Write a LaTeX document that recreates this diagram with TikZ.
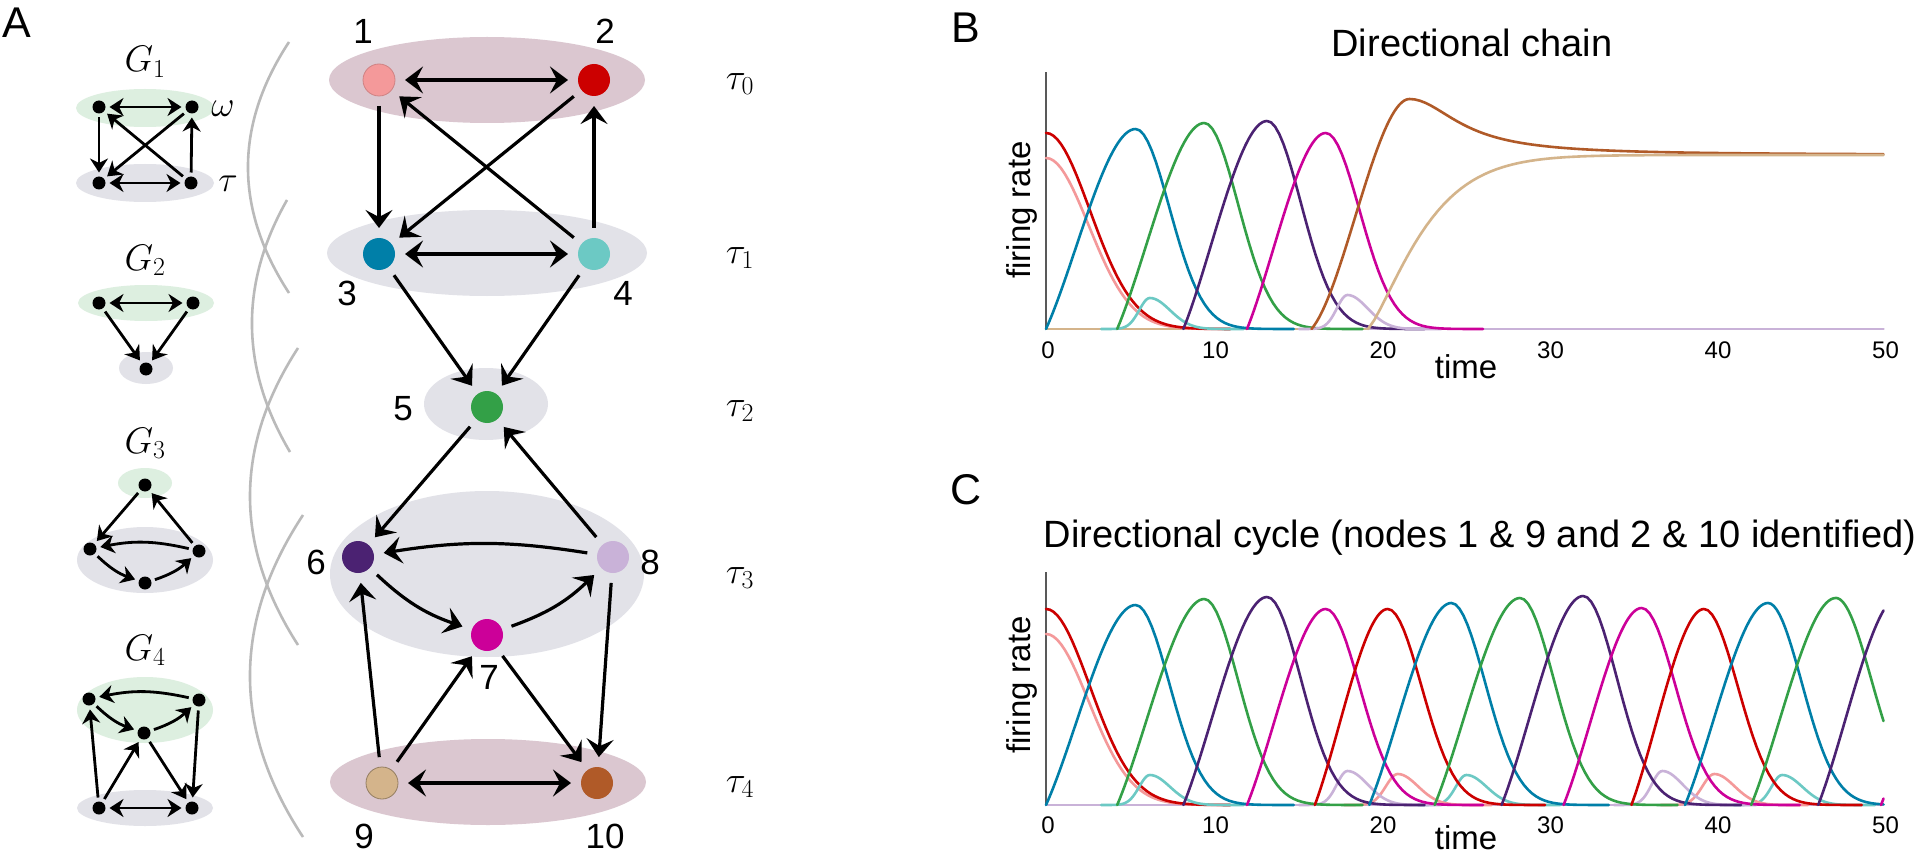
\RequirePackage{fix-cm}
\documentclass[tikz,border=0pt]{standalone}
\usepackage[no-math]{fontspec}
\setmainfont{Liberation Sans}
\usetikzlibrary{arrows.meta}
\definecolor{c1}{HTML}{F4999A}
\definecolor{c2}{HTML}{CC0000}
\definecolor{c3}{HTML}{007FA8}
\definecolor{c4}{HTML}{6CC9C4}
\definecolor{c5}{HTML}{33A047}
\definecolor{c6}{HTML}{4B2272}
\definecolor{c7}{HTML}{CC0099}
\definecolor{c8}{HTML}{C9B2D8}
\definecolor{c9}{HTML}{D4B48B}
\definecolor{c10}{HTML}{B05A28}
\definecolor{mauve}{HTML}{DBC7D0}
\definecolor{lgray}{HTML}{E2E2E8}
\definecolor{lgreen}{HTML}{DDEFE0}
\newcommand{\myfs}[1]{\fontsize{#1}{#1}\selectfont}
\pgfmathdeclarefunction{rise}{1}{\pgfmathparse{(#1)*(1+(#1)-(#1)*(#1))}}
\pgfmathdeclarefunction{fall}{2}{\pgfmathparse{exp(-((#1)/(#2))*((#1)/(#2)))}}
% color, tstart, tpeak, height, sigma, tend
\newcommand{\mypulse}[6]{\draw[curve,#1] plot[domain=#2:#3,samples=36] (\x,{#4*rise((\x-#2)/(#3-#2))}) -- plot[domain=#3:#6,samples=40] (\x,{#4*fall(\x-#3,#5)});}
% color, tpeak, height, sigmaL, sigmaR, tstart, tend
\newcommand{\mybump}[7]{\draw[curve,#1] plot[domain=#6:#2,samples=30] (\x,{#3*fall(\x-#2,#4)}) -- plot[domain=#2:#7,samples=36] (\x,{#3*fall(\x-#2,#5)});}
\tikzset{
 mn/.style={circle,minimum size=32pt,inner sep=0pt,outer sep=10pt},
 sn/.style={circle,fill=black,minimum size=13pt,inner sep=0pt,outer sep=4pt},
 ar/.style={line width=3.2pt,-{Stealth[length=18pt,width=27pt,inset=7pt]}},
 dar/.style={line width=3.2pt,{Stealth[length=18pt,width=27pt,inset=7pt]}-{Stealth[length=18pt,width=27pt,inset=7pt]}},
 sar/.style={line width=2.8pt,-{Stealth[length=14pt,width=18pt,inset=4.5pt]}},
 sdar/.style={line width=2.8pt,{Stealth[length=14pt,width=18pt,inset=4.5pt]}-{Stealth[length=14pt,width=18pt,inset=4.5pt]}},
 numlab/.style={inner sep=0pt,font=\myfs{35}},
 mathlab/.style={inner sep=0pt,font=\myfs{37}},
 panel/.style={inner sep=0pt,font=\myfs{43}},
 ptitle/.style={inner sep=0pt,font=\myfs{38},anchor=base},
 axlab/.style={inner sep=0pt,font=\myfs{33}},
 tick/.style={inner sep=0pt,font=\myfs{24},anchor=base},
 curve/.style={line width=2.6pt,line join=round,line cap=round},
 yax/.style={line width=1.6pt,draw=black!65},
 arcst/.style={line width=2.6pt,draw=black!27},
}
\begin{document}
\begin{tikzpicture}[x=1pt,y=-1pt]
\useasboundingbox[fill=white] (0,0) rectangle (1920,853);

% ---------- panel letters ----------
\node[panel] (pA) at (17,23) {A};
\node[panel] (pB) at (966,28) {B};
\node[panel] (pC) at (966,490) {C};

% ---------- small graphs ----------
\fill[lgreen] (145,108) ellipse [x radius=69pt, y radius=19pt];
\fill[lgray] (145,183) ellipse [x radius=69pt, y radius=19pt];
\fill[lgreen] (146,303) ellipse [x radius=68pt, y radius=18pt];
\fill[lgray] (146,368) ellipse [x radius=27pt, y radius=16pt];
\fill[lgreen] (145,483) ellipse [x radius=27pt, y radius=15pt];
\fill[lgray] (145,560) ellipse [x radius=68pt, y radius=33pt];
\fill[lgreen] (145,710) ellipse [x radius=68pt, y radius=33pt];
\fill[lgray] (145,808) ellipse [x radius=68pt, y radius=18pt];

\node[mathlab,anchor=base] (g1) at (145,72) {$G_1$};
\node[mathlab,anchor=base] (g2) at (145,270) {$G_2$};
\node[mathlab,anchor=base] (g3) at (145,453) {$G_3$};
\node[mathlab,anchor=base] (g4) at (145,660) {$G_4$};
\node[inner sep=0pt,font=\myfs{36}] (om) at (223,109) {$\omega$};
\node[inner sep=0pt,font=\myfs{36}] (ta) at (228,184) {$\tau$};

\node[sn] (s11) at (99,107) {};
\node[sn] (s12) at (192,107) {};
\node[sn] (s13) at (99,183) {};
\node[sn] (s14) at (191,183) {};
\draw[sdar] (s11) -- (s12);
\draw[sdar] (s13) -- (s14);
\draw[sar] (s11) -- (s13);
\draw[sar] (s14) -- (s12);
\draw[sar] (s12) -- (s13);
\draw[sar] (s14) -- (s11);

\node[sn] (s21) at (99,303) {};
\node[sn] (s22) at (193,303) {};
\node[sn] (s23) at (146,369) {};
\draw[sdar] (s21) -- (s22);
\draw[sar] (s21) -- (s23);
\draw[sar] (s22) -- (s23);

\node[sn] (s31) at (145,485) {};
\node[sn] (s32) at (90,549) {};
\node[sn] (s33) at (199,551) {};
\node[sn] (s34) at (145,583) {};
\draw[sar] (s31) -- (s32);
\draw[sar] (s33) -- (s31);
\draw[sar] (s33) to[bend right=12] (s32);
\draw[sar] (s32) to[bend right=12] (s34);
\draw[sar] (s34) to[bend right=12] (s33);

\node[sn] (s41) at (89,699) {};
\node[sn] (s42) at (199,700) {};
\node[sn] (s43) at (144,733) {};
\node[sn] (s44) at (99,808) {};
\node[sn] (s45) at (192,808) {};
\draw[sar] (s42) to[bend right=12] (s41);
\draw[sar] (s41) to[bend right=12] (s43);
\draw[sar] (s43) to[bend right=12] (s42);
\draw[sar] (s44) -- (s41);
\draw[sar] (s44) -- (s43);
\draw[sar] (s43) -- (s45);
\draw[sar] (s42) -- (s45);
\draw[sdar] (s44) -- (s45);

% ---------- grey arcs ----------
\draw[arcst] (289,42) .. controls (234.3,125.3) and (234.3,209) .. (289,293);
\draw[arcst] (287,200) .. controls (239.3,284) and (240.3,368) .. (290,452);
\draw[arcst] (298,348) .. controls (234,446.7) and (234,545.7) .. (298,645);
\draw[arcst] (303,515) .. controls (232.3,622.3) and (232.3,729.7) .. (303,837);

% ---------- main graph ----------
\fill[mauve] (487,80) ellipse [x radius=158pt, y radius=43pt];
\fill[lgray] (487,253) ellipse [x radius=160pt, y radius=43pt];
\fill[lgray] (486,404) ellipse [x radius=62pt, y radius=36pt];
\fill[lgray] (487,574) ellipse [x radius=157pt, y radius=83pt];
\fill[mauve] (488,782) ellipse [x radius=158pt, y radius=43pt];

\node[mn,fill=c1,draw=c1!85!black,line width=0.8pt] (n1) at (379,80) {};
\node[mn,fill=c2] (n2) at (594,80) {};
\node[mn,fill=c3] (n3) at (379,254) {};
\node[mn,fill=c4] (n4) at (594,254) {};
\node[mn,fill=c5] (n5) at (487,407) {};
\node[mn,fill=c6] (n6) at (358,557) {};
\node[mn,fill=c7] (n7) at (487,635) {};
\node[mn,fill=c8] (n8) at (613,557) {};
\node[mn,fill=c9,draw=c9!70!black,line width=0.8pt] (n9) at (382,783) {};
\node[mn,fill=c10] (n10) at (597,783) {};

\draw[dar] (n1) -- (n2);
\draw[dar] (n3) -- (n4);
\draw[ar] (n1) -- (n3);
\draw[ar] (n2) -- (n3);
\draw[ar] (n4) -- (n1);
\draw[ar] (n4) -- (n2);
\draw[ar] (n3) -- (n5);
\draw[ar] (n4) -- (n5);
\draw[ar] (n5) -- (n6);
\draw[ar] (n8) -- (n5);
\draw[ar] (n8) to[bend right=9] (n6);
\draw[ar] (n6) to[bend right=12] (n7);
\draw[ar] (n7) to[bend right=12] (n8);
\draw[ar] (n9) -- (n6);
\draw[ar] (n9) -- (n7);
\draw[ar] (n7) -- (n10);
\draw[ar] (n8) -- (n10);
\draw[dar] (n9) -- (n10);

\node[numlab] (l1) at (363,31) {1};
\node[numlab] (l2) at (605,31) {2};
\node[numlab] (l3) at (347,293) {3};
\node[numlab] (l4) at (623,293) {4};
\node[numlab] (l5) at (403,409) {5};
\node[numlab] (l6) at (316,562) {6};
\node[numlab] (l7) at (489,677) {7};
\node[numlab] (l8) at (650,562) {8};
\node[numlab] (l9) at (364,836) {9};
\node[numlab] (l10) at (605,836) {10};

\node[mathlab] (t0) at (740,84) {$\tau_0$};
\node[mathlab] (t1) at (740,258) {$\tau_1$};
\node[mathlab] (t2) at (740,411) {$\tau_2$};
\node[mathlab] (t3) at (740,578) {$\tau_3$};
\node[mathlab] (t4) at (740,787) {$\tau_4$};

% ---------- panel B ----------
\node[ptitle] (tB) at (1472,57) {Directional chain};
\node[axlab,rotate=90] (fB) at (1022,210) {firing rate};
\node[axlab,anchor=base] (xB) at (1466,378) {time};
\begin{scope}[shift={(1046,329)}]
\begin{scope}[x=16.75pt,y=1pt]
 \draw[yax] (0,0) -- (0,257);
 \draw[curve,c9] (0,0) -- (19.2,0);
 \draw[curve,c8] (19.2,0) -- (50,0);
 \foreach \t in {0,10,20,30,40,50} \node[tick] (tb\t) at (\t+0.12,-29) {\t};
 \draw[curve,c1] plot[domain=0:11,samples=50] (\x,{171*fall(\x,3.6)});
 \draw[curve,c2] plot[domain=0:11,samples=50] (\x,{196*fall(\x,3.7)});
 \mybump{c4}{6.2}{31}{0.9}{1.7}{3.3}{11.8}
 \mypulse{c3}{0}{5.35}{200}{2.85}{14.8}
 \mypulse{c5}{4.25}{9.45}{206}{2.85}{18.9}
 \mypulse{c6}{8.2}{13.2}{208}{2.85}{22.6}
 \mybump{c8}{18.0}{34}{0.9}{1.7}{15.1}{23.6}
 \mypulse{c7}{12.0}{16.7}{196}{2.85}{26.1}
 \draw[curve,c10] plot[domain=15.85:21.7,samples=40] (\x,{230*(0.5*((\x-15.85)/5.85)+2*((\x-15.85)/5.85)^2-1.5*((\x-15.85)/5.85)^3)}) -- plot[domain=21.7:50,samples=90] (\x,{174+56/(1+((\x-21.7)/3.5)^2)});
 \draw[curve,c9] (19.2,0) -- plot[domain=19.25:50,samples=90] (\x,{174*(1-exp(-min(12,((\x-19.2)/3.8)^1.3)))});
\end{scope}
\end{scope}

% ---------- panel C ----------
\node[ptitle] (tC) at (1480,547) {Directional cycle (nodes 1 \& 9 and 2 \& 10 identified)};
\node[axlab,rotate=90] (fC) at (1022,685) {firing rate};
\node[axlab,anchor=base] (xC) at (1466,849) {time};
\begin{scope}[shift={(1046,805)}]
\begin{scope}[x=16.75pt,y=1pt]
 \draw[yax] (0,0) -- (0,233);
 \draw[curve,c8] (0,0) -- (50,0);
 \foreach \t in {0,10,20,30,40,50} \node[tick] (tc\t) at (\t+0.12,-28) {\t};
 \draw[curve,c1] plot[domain=0:11,samples=50] (\x,{171*fall(\x,3.6)});
 \draw[curve,c2] plot[domain=0:11,samples=50] (\x,{196*fall(\x,3.7)});
 \mybump{c4}{6.2}{30}{0.9}{1.7}{3.3}{11.8}
 \mybump{c4}{25.1}{30}{0.9}{1.7}{22.2}{30.7}
 \mybump{c4}{43.95}{30}{0.9}{1.7}{41.05}{49.5}
 \mybump{c1}{21.0}{31}{1.0}{1.7}{17.8}{26.6}
 \mybump{c1}{39.9}{31}{1.0}{1.7}{36.7}{45.5}
 \mybump{c8}{18.0}{34}{0.9}{1.7}{15.1}{23.6}
 \mybump{c8}{36.8}{34}{0.9}{1.7}{33.9}{42.4}
 \mypulse{c3}{0}{5.35}{200}{2.85}{14.8}
 \mypulse{c5}{4.25}{9.45}{206}{2.85}{18.9}
 \mypulse{c6}{8.2}{13.2}{208}{2.85}{22.6}
 \mypulse{c7}{12.0}{16.7}{196}{2.85}{26.1}
 \mypulse{c2}{16.05}{20.4}{196}{2.85}{29.8}
 \mypulse{c3}{19.3}{24.2}{202}{2.85}{33.6}
 \mypulse{c5}{23.2}{28.3}{207}{2.85}{37.7}
 \mypulse{c6}{27.2}{32.07}{209}{2.85}{41.5}
 \mypulse{c7}{30.9}{35.56}{197}{2.85}{45.0}
 \mypulse{c2}{34.95}{39.28}{196}{2.85}{48.7}
 \mypulse{c3}{38.15}{43.1}{202}{2.85}{50}
 \mypulse{c5}{42.1}{47.15}{207}{3.0}{50}
 \draw[curve,c6] plot[domain=46.1:50,samples=30] (\x,{209*rise((\x-46.1)/4.85)});
 \draw[curve,c7] plot[domain=49.85:50,samples=4] (\x,{197*rise((\x-49.85)/4.7)});
\end{scope}
\end{scope}
\end{tikzpicture}
\end{document}
